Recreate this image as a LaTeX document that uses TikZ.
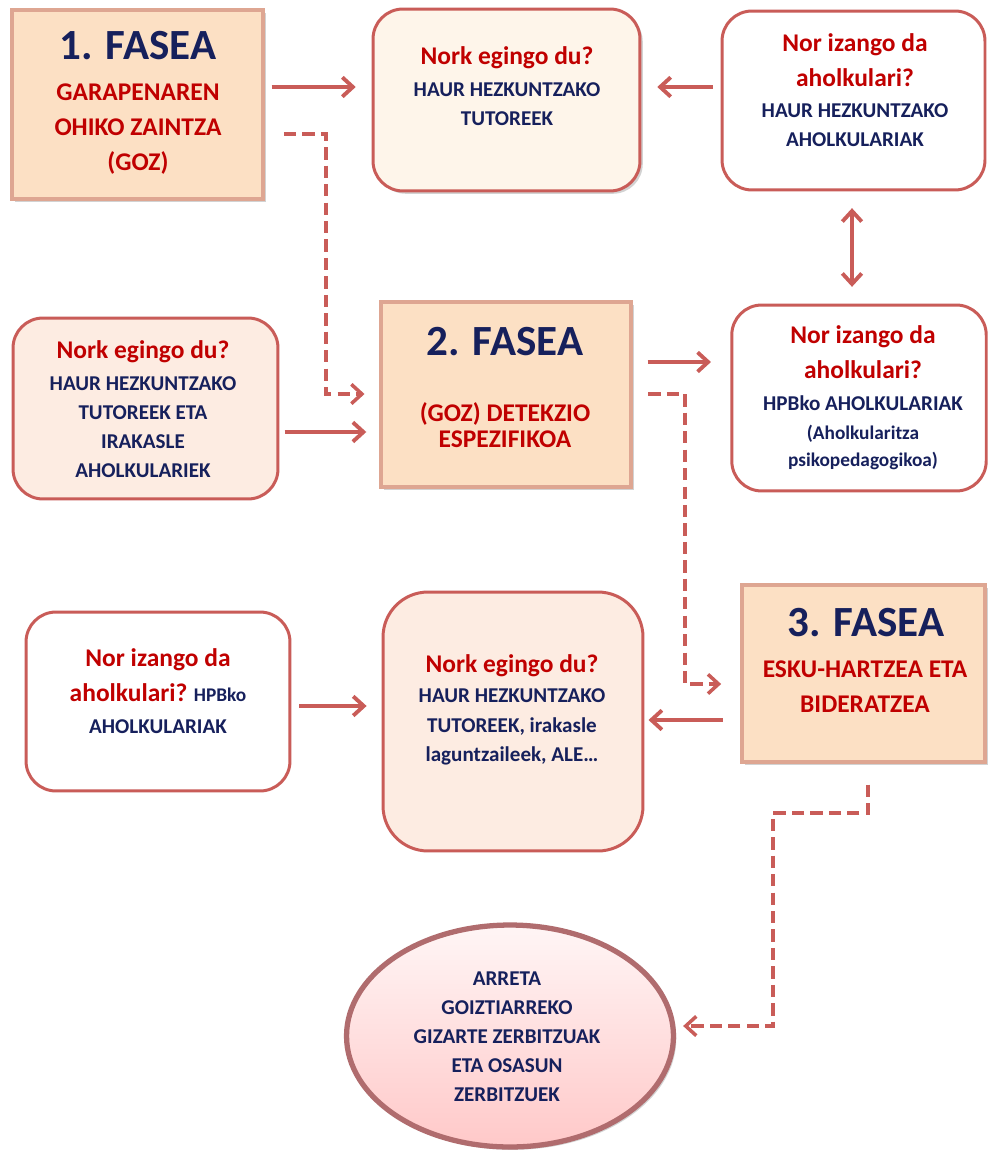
\documentclass[tikz,border=0pt]{standalone}
\usepackage{fontspec}
\setmainfont{Carlito}
\usetikzlibrary{arrows.meta,shapes.geometric,shadows}

\definecolor{gorria}{RGB}{192,0,0}
\definecolor{urdina}{RGB}{22,32,92}
\definecolor{lerroa}{RGB}{201,92,88}
\definecolor{melokotoia}{RGB}{252,224,196}
\definecolor{ertza}{RGB}{222,166,146}
\definecolor{krema}{RGB}{254,245,234}
\definecolor{arrosa}{RGB}{253,236,226}
\definecolor{elipsea}{RGB}{176,108,110}

\newcommand{\galdera}[1]{{\fontsize{14.5}{16.5}\selectfont\color{gorria}#1}}

\tikzset{
	itzala/.style={drop shadow={shadow xshift=1.6pt,shadow yshift=-1.6pt,opacity=0.35}},
	fasekutxa/.style={draw=ertza, line width=1.8pt, fill=melokotoia, inner sep=0pt, itzala},
	kutxa/.style={draw=lerroa, line width=1.7pt, rounded corners=0.6cm, fill=white, inner sep=0pt},
	fasetitulua/.style={font=\fontsize{24.5}{28}\selectfont\bfseries, text=urdina, inner sep=0pt},
	fasetestua/.style={align=center, font=\fontsize{14.5}{20}\selectfont\bfseries, text=gorria, inner sep=0pt},
	testua/.style={align=center, font=\fontsize{12}{16.5}\selectfont\bfseries, text=urdina, inner sep=0pt},
	geza/.style={draw=lerroa, line width=2.2pt, ->},
	etena/.style={geza, line width=2pt, dash pattern=on 7pt off 3.5pt},
	>={Straight Barb[length=6pt,width=11pt]}
}

\begin{document}
\begin{tikzpicture}[x=0.02cm, y=-0.02cm]
		\useasboundingbox[fill=white] (0,0) rectangle (988,1151);

		% Kutxak
		\node[fasekutxa, minimum width=5.02cm, minimum height=3.78cm] (fase1) at (137.5,104.5) {};
		\node[kutxa, fill=krema, itzala, minimum width=5.34cm, minimum height=3.64cm] (egin1) at (506.5,100) {};
		\node[kutxa, minimum width=5.26cm, minimum height=3.58cm] (aholk1) at (853.5,100.5) {};
		\node[kutxa, fill=arrosa, minimum width=5.30cm, minimum height=3.62cm] (egin2) at (145.5,408.5) {};
		\node[fasekutxa, minimum width=5.00cm, minimum height=3.70cm] (fase2) at (506,394.5) {};
		\node[kutxa, minimum width=5.09cm, minimum height=3.72cm] (aholk2) at (859,398) {};
		\node[fasekutxa, minimum width=4.86cm, minimum height=3.54cm] (fase3) at (863.5,673.5) {};
		\node[kutxa, minimum width=5.28cm, minimum height=3.58cm] (aholk3) at (158,701.5) {};
		\node[kutxa, fill=arrosa, rounded corners=0.9cm, minimum width=5.20cm, minimum height=5.18cm] (egin3) at (513,721.5) {};
		\node[ellipse, draw=elipsea, line width=3pt, top color=white!85!pink, bottom color=pink!70!red!45, itzala,
			inner sep=0pt, minimum width=6.54cm, minimum height=4.44cm] (zerb) at (510,1036) {};

		% Testuak
		\node[fasetitulua] (fase1tit) at (138,45.5) {1. FASEA};
		\node[fasetestua] (fase1testu) at (138,129) {GARAPENAREN\\OHIKO ZAINTZA\\(GOZ)};
		\node[testua] (egin1testu) at (507,86) {\galdera{Nork egingo du?}\\[1.7pt]HAUR HEZKUNTZAKO\\TUTOREEK};
		\node[testua] (aholk1testu) at (855,90.5) {\galdera{Nor izango da}\\[3pt]\galdera{aholkulari?}\\[1.7pt]HAUR HEZKUNTZAKO\\AHOLKULARIAK};
		\node[testua] (egin2testu) at (143,409.5) {\galdera{Nork egingo du?}\\[1.7pt]HAUR HEZKUNTZAKO\\TUTOREEK ETA\\IRAKASLE\\AHOLKULARIEK};
		\node[fasetitulua] (fase2tit) at (505,341.7) {2. FASEA};
		\node[fasetestua] (fase2testu) at (505,425) {(GOZ) DETEKZIO\\[-5pt]ESPEZIFIKOA};
		\node[testua] (aholk2testu) at (863,398) {\galdera{Nor izango da}\\[3pt]\galdera{aholkulari?}\\[2pt]HPBko AHOLKULARIAK\\
			{\fontsize{11}{15}\selectfont(Aholkularitza}\\[-1pt]{\fontsize{11}{15}\selectfont psikopedagogikoa)}};
		\node[fasetitulua] (fase3tit) at (866,622.5) {3. FASEA};
		\node[fasetestua] (fase3testu) at (865,686.5) {ESKU-HARTZEA ETA\\BIDERATZEA};
		\node[testua] (aholk3testu) at (158,691) {\galdera{Nor izango da}\\[3.5pt]\galdera{aholkulari?} {\fontsize{11}{15}\selectfont HPBko}\\[2pt]AHOLKULARIAK};
		\node[testua] (egin3testu) at (512,710) {\galdera{Nork egingo du?}\\[0.5pt]HAUR HEZKUNTZAKO\\[0.5pt]TUTOREEK, irakasle\\[0.5pt]laguntzaileek, ALE…};
		\node[testua] (zerbtestu) at (507,1037) {ARRETA\\GOIZTIARREKO\\GIZARTE ZERBITZUAK\\ETA OSASUN\\ZERBITZUEK};

		% Geziak
		\draw[geza, shorten <=4pt, shorten >=9pt] (fase1.east |- 0,87) -- (egin1.west |- 0,87);
		\draw[geza, shorten <=4.5pt, shorten >=9pt] (aholk1.west |- 0,87) -- (egin1.east |- 0,87);
		\draw[geza, <->, shorten <=9.5pt, shorten >=9.5pt] (aholk1.south -| 852,0) -- (aholk2.north -| 852,0);
		\draw[geza, shorten <=3pt, shorten >=7.5pt] (egin2.east |- 0,432) -- (fase2.west |- 0,432);
		\draw[geza, shorten <=8.5pt, shorten >=11pt] (fase2.east |- 0,362) -- (aholk2.west |- 0,362);
		\draw[geza, shorten <=4.5pt, shorten >=8.5pt] (aholk3.east |- 0,706) -- (egin3.west |- 0,706);
		\draw[geza, shorten <=10pt, shorten >=2.3pt] (fase3.west |- 0,720) -- (egin3.east |- 0,720);

		% Gezi etenak
		\draw[etena, shorten <=11pt, shorten >=8.5pt] (fase1.east |- 0,134) -- (326,134) |- (fase2.west |- 0,394);
		\draw[etena, shorten <=9pt, shorten >=11pt] (fase2.east |- 0,394) -- (685,394) |- (fase3.west |- 0,684);
		\draw[etena, shorten <=12pt, shorten >=4pt] (fase3.south -| 868,0) -- (868,813) -| (773,1026) -- (zerb.east |- 0,1026);

	\end{tikzpicture}
\end{document}
